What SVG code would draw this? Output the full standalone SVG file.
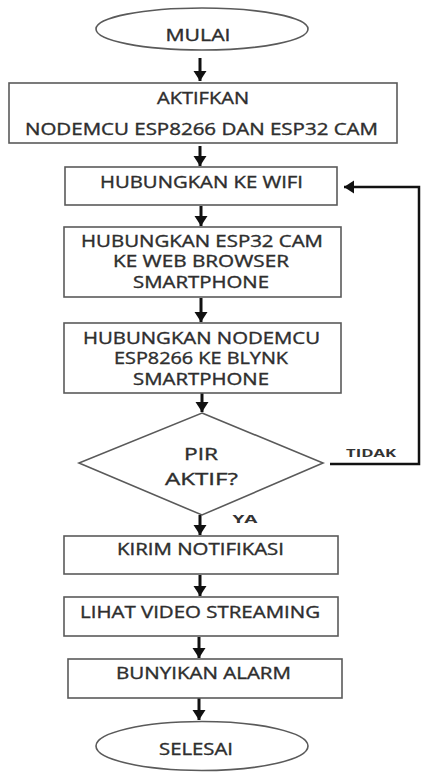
<svg xmlns="http://www.w3.org/2000/svg" width="421" height="772" viewBox="0 0 421 772">
<defs>
<style>
.shape{fill:#fff;stroke:#5a5a5a;stroke-width:1.6}
.t{font-family:"Open Sans","Liberation Sans",sans-serif;font-size:15.5px;fill:#2e2e2e;stroke:#2e2e2e;stroke-width:0.35;text-anchor:middle}
.d{font-size:16.5px}
.lbl{font-family:"Open Sans","Liberation Sans",sans-serif;font-size:11px;font-weight:bold;fill:#333;text-anchor:middle}
.ar{fill:none;stroke:#111;stroke-width:3}
.fb{fill:none;stroke:#111;stroke-width:2.5}
</style>
<marker id="ah" markerUnits="userSpaceOnUse" markerWidth="14" markerHeight="14" viewBox="0 0 14 14" refX="12" refY="7" orient="auto">
<path d="M2,0.5 L12,7 L2,13.5 Z" fill="#111"/>
</marker>
</defs>
<rect width="421" height="772" fill="#fff"/>
<g id="connectors">
<line class="ar" x1="200" y1="58" x2="200" y2="81" marker-end="url(#ah)"/>
<line class="ar" x1="200" y1="146" x2="200" y2="166" marker-end="url(#ah)"/>
<line class="ar" x1="201" y1="206" x2="201" y2="226" marker-end="url(#ah)"/>
<line class="ar" x1="201" y1="298" x2="201" y2="322" marker-end="url(#ah)"/>
<line class="ar" x1="202" y1="393" x2="202" y2="412" marker-end="url(#ah)"/>
<line class="ar" x1="200" y1="515" x2="200" y2="535" marker-end="url(#ah)"/>
<line class="ar" x1="200" y1="575" x2="200" y2="596" marker-end="url(#ah)"/>
<line class="ar" x1="199" y1="637" x2="199" y2="658" marker-end="url(#ah)"/>
<line class="ar" x1="199" y1="698" x2="199" y2="720" marker-end="url(#ah)"/>
<path class="fb" d="M330,464 H419 V187 H344" marker-end="url(#ah)"/>
<text class="lbl" x="371" y="457" textLength="50" lengthAdjust="spacingAndGlyphs">TIDAK</text>
<text class="lbl" x="245" y="523" textLength="25" lengthAdjust="spacingAndGlyphs">YA</text>
</g>
<g id="mulai">
<ellipse class="shape" cx="202" cy="29" rx="106" ry="21"/>
<text class="t" x="198" y="41" textLength="65" lengthAdjust="spacingAndGlyphs">MULAI</text>
</g>
<g id="aktifkan">
<rect class="shape" x="9" y="83" width="388" height="60"/>
<text class="t" x="203" y="104" textLength="92" lengthAdjust="spacingAndGlyphs">AKTIFKAN</text>
<text class="t" x="201.5" y="135" textLength="353" lengthAdjust="spacingAndGlyphs">NODEMCU ESP8266 DAN ESP32 CAM</text>
</g>
<g id="wifi">
<rect class="shape" x="65" y="167" width="272" height="38"/>
<text class="t" x="201.5" y="188" textLength="203" lengthAdjust="spacingAndGlyphs">HUBUNGKAN KE WIFI</text>
</g>
<g id="esp32">
<rect class="shape" x="64" y="227" width="277" height="70"/>
<text class="t" x="202" y="247" textLength="242" lengthAdjust="spacingAndGlyphs">HUBUNGKAN ESP32 CAM</text>
<text class="t" x="201" y="267" textLength="176" lengthAdjust="spacingAndGlyphs">KE WEB BROWSER</text>
<text class="t" x="201" y="288" textLength="136" lengthAdjust="spacingAndGlyphs">SMARTPHONE</text>
</g>
<g id="nodemcu">
<rect class="shape" x="64" y="323" width="277" height="70"/>
<text class="t" x="201.5" y="344" textLength="237" lengthAdjust="spacingAndGlyphs">HUBUNGKAN NODEMCU</text>
<text class="t" x="201" y="364" textLength="174" lengthAdjust="spacingAndGlyphs">ESP8266 KE BLYNK</text>
<text class="t" x="201" y="385" textLength="136" lengthAdjust="spacingAndGlyphs">SMARTPHONE</text>
</g>
<g id="pir">
<polygon class="shape" points="202,413 323,463 202,515 79,463"/>
<text class="t d" x="201" y="460" textLength="34" lengthAdjust="spacingAndGlyphs">PIR</text>
<text class="t d" x="201.5" y="485" textLength="73" lengthAdjust="spacingAndGlyphs">AKTIF?</text>
</g>
<g id="kirim">
<rect class="shape" x="64" y="536" width="274" height="38"/>
<text class="t" x="200.5" y="555" textLength="167" lengthAdjust="spacingAndGlyphs">KIRIM NOTIFIKASI</text>
</g>
<g id="lihat">
<rect class="shape" x="64" y="597" width="274" height="39"/>
<text class="t" x="200" y="618" textLength="240" lengthAdjust="spacingAndGlyphs">LIHAT VIDEO STREAMING</text>
</g>
<g id="bunyikan">
<rect class="shape" x="68" y="659" width="274" height="39"/>
<text class="t" x="203.5" y="679" textLength="175" lengthAdjust="spacingAndGlyphs">BUNYIKAN ALARM</text>
</g>
<g id="selesai">
<ellipse class="shape" cx="202" cy="746" rx="106" ry="24.5"/>
<text class="t" x="196" y="755" textLength="74" lengthAdjust="spacingAndGlyphs">SELESAI</text>
</g>
</svg>
